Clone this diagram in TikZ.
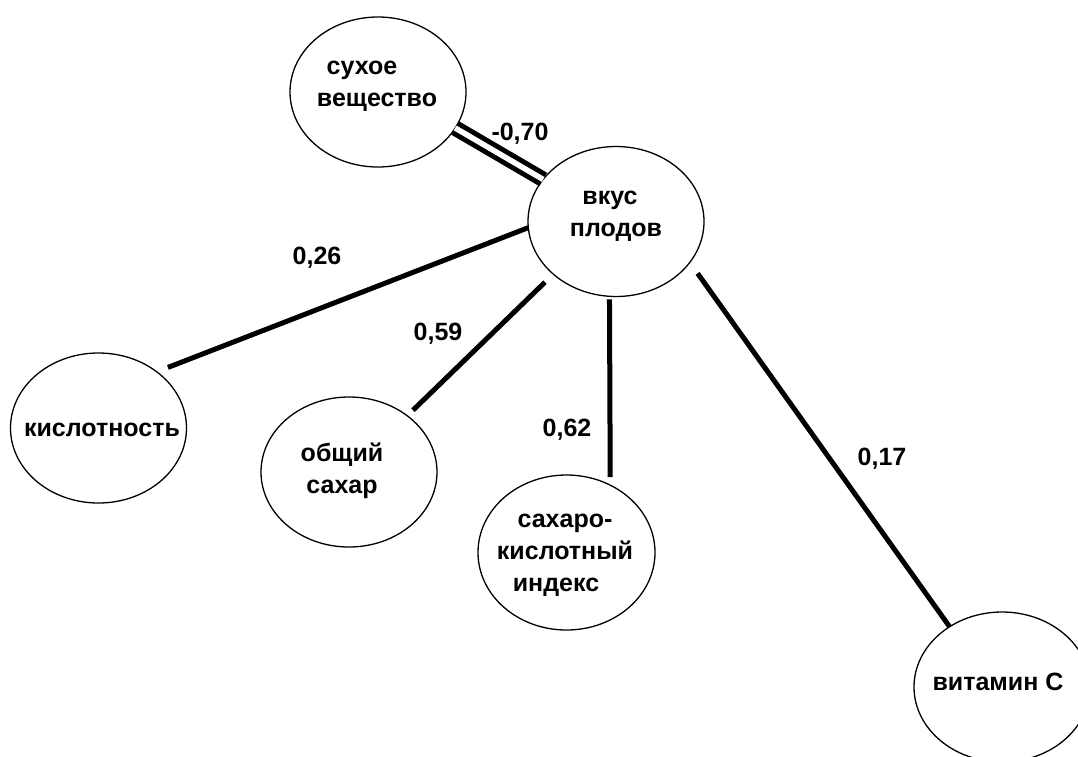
\documentclass[tikz,border=0pt]{standalone}
\usepackage{fontspec}
\setmainfont{Liberation Sans}
\usetikzlibrary{shapes.geometric}
\tikzset{
  ell/.style={draw, line width=1.3pt, ellipse, minimum width=176pt, minimum height=150pt, inner sep=0pt, outer sep=0pt},
  txt/.style={align=center, inner sep=0pt, font=\bfseries\fontsize{25}{32}\selectfont},
  conn/.style={line width=5pt},
  lab/.style={inner sep=0pt, text height=17.9pt, text depth=0pt, font=\bfseries\fontsize{25}{30}\selectfont}
}
\begin{document}
\begin{tikzpicture}[x=1pt,y=-1pt]
\useasboundingbox (0,0) rectangle (1078,756);
% ellipses
\node[ell] (dry) at (378,92) {};
\node[ell] (vkus) at (616,221.5) {};
\node[ell] (kisl) at (98.5,428) {};
\node[ell] (sugar) at (349,472) {};
\node[ell, minimum width=177pt, minimum height=155pt] (ski) at (566.5,552.5) {};
\node[ell] (vit) at (1002,687) {};
% texts
\node[txt] (drytxt) at (377,86) {\hspace*{-30pt}сухое\\вещество};
\node[txt] (vkustxt) at (616,216) {\hspace*{-12pt}вкус\\плодов};
\node[txt] (kisltxt) at (102,430) {кислотность};
\node[txt] (sugartxt) at (342,471) {общий\\сахар};
\node[txt] (skitxt) at (565,555) {сахаро-\\кислотный\\\hspace*{-18pt}индекс};
\node[txt] (vittxt) at (998,682) {витамин С};
% connectors
\draw[conn, double=white, double distance=5.5pt] (dry.-25.4) -- (vkus.150);
\draw[conn, shorten >=12pt] (vkus.184) -- (kisl.44.5);
\draw[conn, shorten <=11.6pt, shorten >=8pt] (vkus.220.3) -- (sugar.44.1);
\draw[conn, shorten <=3pt, shorten >=8pt] (vkus.265.4) -- (ski.57.2);
\draw[conn, shorten <=13.5pt] (vkus.-29.9) -- (vit.131);
% labels
\node[lab] (l70) at (520,132) {-0,70};
\node[lab] (l26) at (317,256) {0,26};
\node[lab] (l59) at (438,332) {0,59};
\node[lab] (l62) at (567,428) {0,62};
\node[lab] (l17) at (882,457) {0,17};
\end{tikzpicture}
\end{document}
